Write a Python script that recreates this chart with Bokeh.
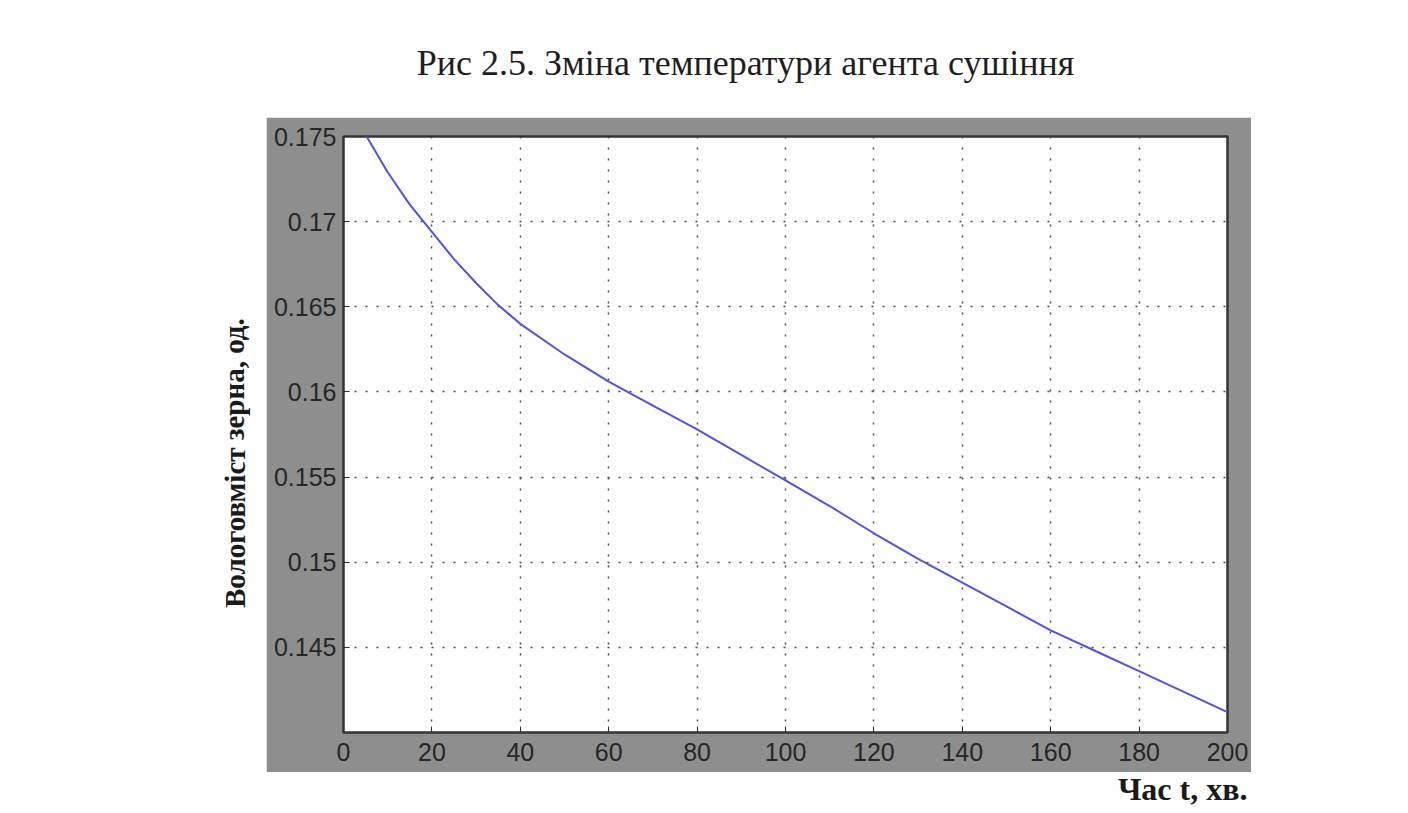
from bokeh.plotting import figure
from bokeh.models import Range1d, FixedTicker, Spacer
from bokeh.layouts import column, row
from bokeh.embed import file_html
from bokeh.resources import INLINE
from bokeh.core.properties import value

# ---- data ----
time_min = [0, 5, 10, 15, 20, 25, 30, 35, 40, 50, 60, 70, 80, 90, 100,
            110, 120, 130, 140, 150, 160, 170, 180, 190, 200]
moisture = [0.1771, 0.1751, 0.1729, 0.1710, 0.1694, 0.1678, 0.1664, 0.1651,
            0.1640, 0.1622, 0.1606, 0.1592, 0.1578, 0.1563, 0.1548, 0.1533,
            0.1517, 0.1502, 0.1488, 0.1474, 0.1460, 0.1448, 0.1436, 0.1424,
            0.1412]
x_ticks = [0, 20, 40, 60, 80, 100, 120, 140, 160, 180, 200]
y_ticks = [0.145, 0.15, 0.155, 0.16, 0.165, 0.17, 0.175]
y_tick_labels = ["0.145", "0.15", "0.155", "0.16", "0.165", "0.17", "0.175"]
caption = "Рис 2.5. Зміна температури агента сушіння"
x_label = "Час t, хв."
y_label = "Вологовміст зерна, од."

X_MIN, X_MAX = 0, 200
Y_MIN, Y_MAX = 0.14, 0.175

# ---- layout (page pixels) ----
W, H = 1392, 811
GL, GR, GT, GB = 266, 1251, 117, 772        # gray figure window
FL, FR, FT, FB = 343, 1227, 136, 732        # axes frame


def text_panel(w, h):
    f = figure(width=w, height=h, output_backend="svg", toolbar_location=None,
               x_range=Range1d(0, w), y_range=Range1d(h, 0),
               x_axis_location=None, y_axis_location=None, min_border=0)
    f.grid.visible = False
    f.outline_line_color = None
    f.background_fill_color = "white"
    f.border_fill_color = "white"
    return f


# caption panel
top = text_panel(W, GT)
top.text(x=[745], y=[62], text=[caption], text_align="center",
         text_baseline="alphabetic", text_font=value("Liberation Serif"),
         text_font_size="36px", text_color="#1e1e1e")

# y-label panel
left = text_panel(GL, GB - GT)
left.text(x=[234], y=[476 - GT], text=[y_label], angle=1.5708,
          text_align="center", text_baseline="alphabetic",
          text_font=value("Liberation Serif"), text_font_size="29px",
          text_font_style="bold", text_color="#1a1a1a")

# x-label panel
bottom = text_panel(W, H - GB)
bottom.text(x=[1247], y=[788 - GB], text=[x_label], text_align="right",
            text_baseline="alphabetic", text_font=value("Liberation Serif"),
            text_font_size="32px", text_font_style="bold",
            text_color="#1a1a1a")

# main MATLAB-style plot
p = figure(width=GR - GL, height=GB - GT, output_backend="svg",
           toolbar_location=None,
           x_range=Range1d(X_MIN, X_MAX), y_range=Range1d(Y_MIN, Y_MAX),
           frame_width=FR - FL, frame_height=FB - FT,
           min_border_left=FL - GL, min_border_right=GR - FR,
           min_border_top=FT - GT, min_border_bottom=GB - FB)
p.background_fill_color = "white"
p.border_fill_color = "#8e8e8e"
p.outline_line_color = "#343434"
p.outline_line_width = 2.5

p.line(time_min, moisture, line_color="#5252e6", line_width=2)

for ax in (p.xaxis[0], p.yaxis[0]):
    ax.axis_line_color = None
    ax.major_tick_in = 6
    ax.major_tick_out = 0
    ax.major_tick_line_color = "#333333"
    ax.minor_tick_line_color = None
    ax.major_label_text_font = "Liberation Sans"
    ax.major_label_text_font_size = "25px"
    ax.major_label_text_color = "#262626"

p.xaxis.ticker = FixedTicker(ticks=x_ticks)
p.yaxis.ticker = FixedTicker(ticks=y_ticks)
p.yaxis.major_label_overrides = {t: s for t, s in zip(y_ticks, y_tick_labels)}
p.xaxis.major_label_standoff = 10
p.yaxis.major_label_standoff = 7

p.grid.grid_line_color = "#4a4a4a"
p.grid.grid_line_dash = "2 9"
p.grid.grid_line_width = 1.5
p.xgrid.ticker = FixedTicker(ticks=x_ticks)
p.ygrid.ticker = FixedTicker(ticks=y_ticks)

right = Spacer(width=W - GR, height=GB - GT)
layout = column(top, row(left, p, right), bottom)

open("out.html", "w").write(file_html(layout, INLINE))
